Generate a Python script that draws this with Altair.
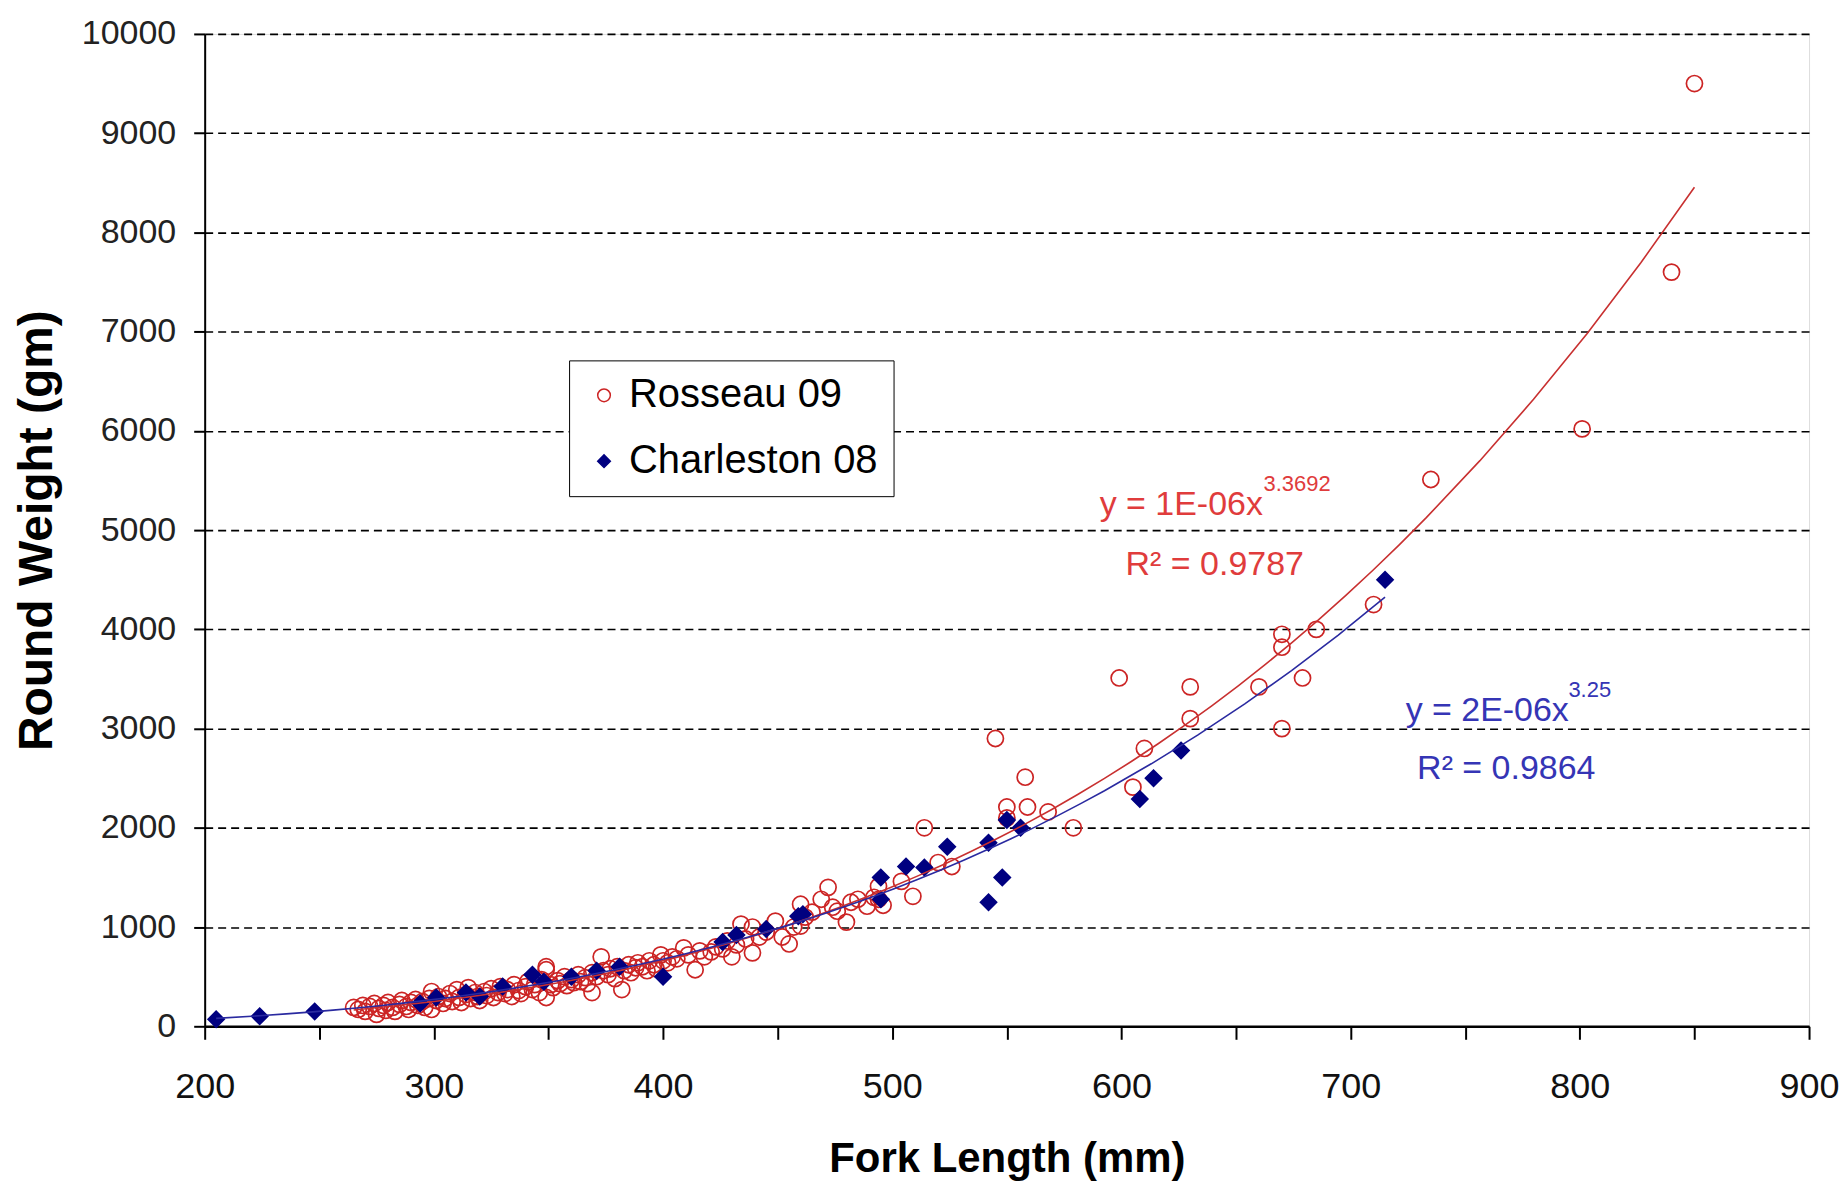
import altair as alt
import pandas as pd

# ---- data ----
ros_L = [265, 267, 269, 270, 272, 274, 275, 276, 278, 279, 280, 282, 283, 285, 286, 288, 289, 290, 292, 293,
         295, 296, 298, 299, 299, 301, 302, 304, 305, 307, 308, 310, 311, 312, 314, 315, 316, 318, 319, 320,
         322, 323, 325, 326, 328, 329, 331, 332, 334, 335, 337, 338, 340, 341, 343, 344, 346, 347, 349, 349,
         349, 351, 352, 354, 355, 357, 358, 360, 361, 363, 364, 366, 367, 369, 369, 371, 373, 374, 376, 377,
         379, 380, 382, 383, 385, 386, 388, 389, 391, 393, 394, 396, 397, 399, 400, 402, 404, 406, 409, 411,
         414, 416, 418, 421, 423, 426, 428, 430, 432, 434, 436, 439, 439, 442, 445, 449, 452, 455, 457, 460,
         460, 462, 465, 469, 472, 474, 476, 480, 482, 485, 489, 492, 494, 494, 496, 504, 509, 514, 520, 526,
         545, 550, 550, 558, 559, 568, 579, 599, 605, 610, 630, 630, 660, 670, 670, 670, 679, 685, 710, 735,
         801, 840, 850]
ros_W = [190, 170, 210, 150, 200, 230, 120, 180, 210, 160, 240, 190, 150, 220, 260, 200, 170, 240, 270, 210,
         250, 190, 280, 170, 350, 260, 300, 230, 280, 330, 250, 370, 290, 240, 320, 390, 280, 340, 300, 260,
         350, 310, 380, 290, 340, 400, 330, 370, 300, 420, 360, 330, 400, 450, 370, 420, 340, 470, 600, 290,
         570, 420, 390, 460, 430, 500, 410, 470, 440, 520, 450, 490, 430, 340, 540, 500, 700, 560, 520, 580,
         480, 600, 370, 560, 620, 540, 590, 640, 600, 560, 660, 620, 580, 720, 660, 640, 700, 680, 790, 720,
         570, 760, 700, 750, 800, 780, 860, 700, 820, 1030, 880, 1000, 740, 900, 950, 1060, 900, 830, 1000, 1230,
         1010, 1100, 1150, 1280, 1400, 1200, 1160, 1050, 1250, 1280, 1210, 1300, 1410, 1280, 1220, 1460, 1310, 2000, 1650, 1610,
         2900, 2210, 2100, 2510, 2210, 2160, 2000, 3510, 2410, 2800, 3420, 3100, 3420, 3950, 3820, 3000, 3510, 4000, 4250, 5510,
         6020, 7600, 9500]

cha_L = [205, 224, 248, 294, 301, 314, 320, 330, 343, 348, 360, 371, 381, 400, 426, 432, 445, 459, 461, 495,
         495, 506, 514, 524, 542, 542, 548, 550, 556, 608, 614, 626, 715]
cha_W = [70, 100, 150, 230, 290, 340, 300, 400, 520, 450, 500, 560, 600, 500, 850, 920, 980, 1110, 1130, 1500,
         1280, 1610, 1600, 1810, 1850, 1250, 1500, 2080, 2000, 2290, 2500, 2780, 4500]

series_names = ["Rosseau 09", "Charleston 08"]

x_ticks = list(range(200, 901, 50))
y_ticks = list(range(0, 10001, 1000))

# trendline labels (anchored in data units)
eq_text = ["y = 1E-06x", "R\u00b2 = 0.9787", "y = 2E-06x", "R\u00b2 = 0.9864"]
eq_L = [590.5, 601.8, 724.0, 729.0]
eq_W = [5154, 4550, 3080, 2488]
eq_col = ["#E03C3C", "#E03C3C", "#3535B5", "#3535B5"]
sup_text = ["3.3692", "3.25"]
sup_L = [662.0, 795.0]
sup_W = [5390, 3320]
sup_col = ["#E03C3C", "#3535B5"]

RED = "#CC2424"
NAVY = "#000080"
FONT = "Liberation Sans"

pts = pd.DataFrame({
    "L": ros_L + cha_L,
    "W": ros_W + cha_W,
    "series": [series_names[0]] * len(ros_L) + [series_names[1]] * len(cha_L),
})
ros_df = pd.DataFrame({"L": ros_L, "W": ros_W})
cha_df = pd.DataFrame({"L": cha_L, "W": cha_W})
eq_df = pd.DataFrame({"L": eq_L, "W": eq_W, "t": eq_text, "c": eq_col})
sup_df = pd.DataFrame({"L": sup_L, "W": sup_W, "t": sup_text, "c": sup_col})

xenc = alt.X("L:Q", scale=alt.Scale(domain=[200, 900], nice=False, zero=False),
             axis=alt.Axis(values=x_ticks, labelExpr="datum.value % 100 == 0 ? datum.label : ''",
                           format="d", grid=False, tickSize=13, tickWidth=2, tickColor="black",
                           domainColor="black", domainWidth=2.5, labelFont=FONT,
                           labelFontSize=36, labelColor="#111", labelPadding=30, labelFlush=False,
                           labelOverlap=False, title="Fork Length (mm)", titleFont=FONT,
                           titleFontSize=42, titleFontWeight="bold", titlePadding=34, titleColor="black"))
yenc = alt.Y("W:Q", scale=alt.Scale(domain=[0, 10000], nice=False),
             axis=alt.Axis(values=y_ticks, format="d", grid=True, gridDash=[8, 5], gridColor="black",
                           gridWidth=1.6, gridOpacity=1, tickSize=11, tickWidth=2, tickColor="black",
                           domainColor="black", domainWidth=2, labelFont=FONT,
                           labelFontSize=34, labelColor="#222", labelPadding=18,
                           title="Round Weight (gm)", titleFont=FONT, titleFontSize=48,
                           titleFontWeight="bold", titlePadding=20, titleColor="black"))

leg = alt.Legend(title=None, orient="none", legendX=365, legendY=327, fillColor="white",
                 strokeColor="black", padding=15, rowPadding=26, labelFont=FONT,
                 labelFontSize=40, labelColor="black", labelLimit=500, symbolSize=160,
                 symbolStrokeWidth=1.5, symbolOpacity=1, labelOffset=5)

points = alt.Chart(pts).mark_point(filled=True, size=260, strokeWidth=1.7, opacity=1).encode(
    x=xenc, y=yenc,
    shape=alt.Shape("series:N", scale=alt.Scale(domain=series_names, range=["circle", "diamond"]), legend=leg),
    stroke=alt.Stroke("series:N", scale=alt.Scale(domain=series_names, range=[RED, NAVY]), legend=leg),
    fill=alt.Fill("series:N", scale=alt.Scale(domain=series_names, range=["transparent", NAVY]), legend=leg),
)

red_fit = alt.Chart(ros_df).transform_regression("L", "W", method="pow", extent=[265, 850]).mark_line(
    color="#C83030", strokeWidth=1.6).encode(x="L:Q", y="W:Q")
blue_fit = alt.Chart(cha_df).transform_regression("L", "W", method="pow", extent=[205, 715]).mark_line(
    color="#2A2AA0", strokeWidth=1.6).encode(x="L:Q", y="W:Q")

eq_layer = alt.Chart(eq_df).mark_text(align="left", baseline="alphabetic", font=FONT,
                                      fontSize=34).encode(
    x="L:Q", y="W:Q", text="t:N", color=alt.Color("c:N", scale=None))
sup_layer = alt.Chart(sup_df).mark_text(align="left", baseline="alphabetic", font=FONT,
                                        fontSize=22).encode(
    x="L:Q", y="W:Q", text="t:N", color=alt.Color("c:N", scale=None))

chart = alt.layer(points, red_fit, blue_fit, eq_layer, sup_layer).properties(
    width=1607, height=994,
    autosize=alt.AutoSizeParams(type="none"),
    padding={"left": 197, "top": 25, "right": 30, "bottom": 160},
).configure_view(stroke="black", strokeWidth=2).configure(background="white")

chart.save("out.html", embed_options={"renderer": "svg", "actions": False})
